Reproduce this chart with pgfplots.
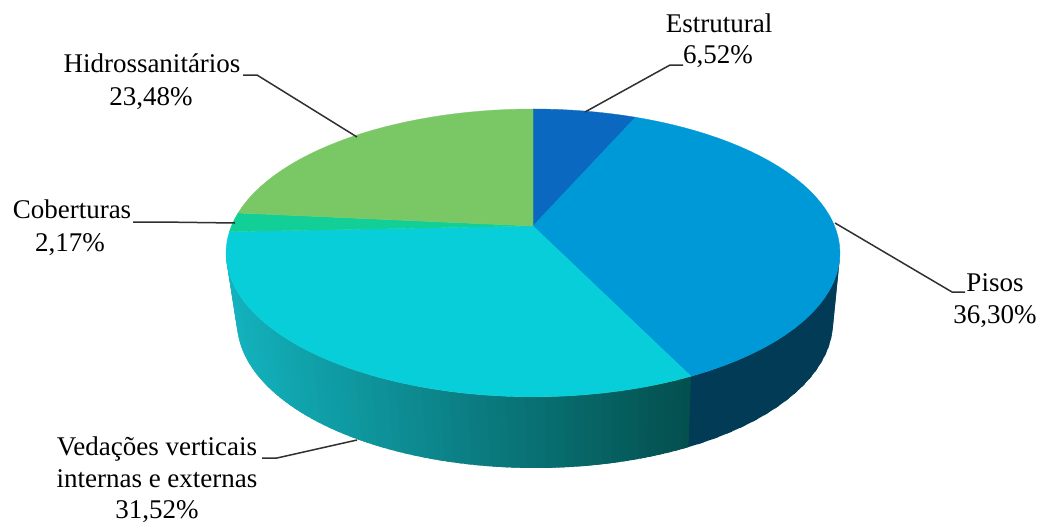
\documentclass[border=0pt]{standalone}
\usepackage{fontspec}
\setmainfont{Liberation Serif}
\usepackage{pgfplots}
\usepackage{pgfplotstable}
\pgfplotsset{compat=1.18}

% Share of each building system, clockwise from twelve o'clock
\pgfplotstableread{
share
6.52
36.30
31.52
2.17
23.48
}\sharetable

\definecolor{cEstrutural}{HTML}{0A68C0}
\definecolor{cPisos}{HTML}{0099D8}
\definecolor{cVedacoes}{HTML}{08CED9}
\definecolor{cCoberturas}{HTML}{12CF97}
\definecolor{cHidro}{HTML}{7AC865}
\definecolor{wallPisos}{HTML}{013B55}
\definecolor{wallLight}{HTML}{13B3BE}
\definecolor{wallDark}{HTML}{04504F}
\definecolor{leader}{HTML}{303030}

\newcommand{\labelfont}{\fontsize{27}{31}\selectfont}
\def\shareTotal{99.99}
\def\tilt{0.187}

% Perspective projection of the disc: upper rim and lower rim
\newcommand{\upperrim}[1]{%
  \pgfmathsetmacro\den{1+\tilt*cos(#1)}%
  \pgfmathsetmacro\rx{533+301.6*sin(#1)/\den}%
  \pgfmathsetmacro\ry{226-138.9*cos(#1)/\den}%
}
\newcommand{\lowerrim}[1]{%
  \pgfmathsetmacro\den{1+\tilt*cos(#1)}%
  \pgfmathsetmacro\rx{535+292.8*sin(#1)/\den}%
  \pgfmathsetmacro\ry{294.7-140.9*cos(#1)/\den}%
}

% One sector of the top face, for row #1 of the table
\gdef\thetaStart{0}
\newcommand{\drawslice}[2]{%
  \pgfplotstablegetelem{#1}{share}\of\sharetable
  \pgfmathsetmacro\thetaEnd{\thetaStart+\pgfplotsretval*360/\shareTotal}%
  \xdef\pts{(533,226)}%
  \pgfmathtruncatemacro\nseg{max(2,ceil((\thetaEnd-\thetaStart)/3))}%
  \foreach \i in {0,...,\nseg}{%
    \pgfmathsetmacro\th{\thetaStart+(\thetaEnd-\thetaStart)*\i/\nseg}%
    \upperrim{\th}%
    \xdef\pts{\pts (\rx,\ry)}%
  }%
  \edef\cmd{\noexpand\addplot[fill=#2,draw=#2,line width=0.3pt] coordinates {\pts (533,226)};}%
  \cmd
  \xdef\thetaStart{\thetaEnd}%
}

% One strip of the outer wall; painted in order, each one laps over the next
\newcommand{\wallstrip}[3]{%
  \upperrim{#1}\edef\ax{\rx}\edef\ay{\ry}%
  \upperrim{#2}\edef\bx{\rx}\edef\by{\ry}%
  \lowerrim{#2}\edef\cx{\rx}\edef\cy{\ry}%
  \lowerrim{#1}\edef\dx{\rx}\edef\dy{\ry}%
  \edef\cmd{\noexpand\addplot[fill={#3},draw=none] coordinates {(\ax,\ay) (\bx,\by) (\cx,\cy) (\dx,\dy) (\ax,\ay)};}%
  \cmd
}

\newcommand{\leaderline}[1]{\addplot[leader,line width=1.5pt] coordinates {#1};}
\newcommand{\txt}[3]{\node[anchor=base,inner sep=0pt,font=\labelfont,text=black] at (axis cs:#1,#2) {#3};}

\begin{document}
\begin{tikzpicture}
\path[use as bounding box] (0,0) rectangle (1045pt,523pt);
\begin{axis}[
  at={(0,0)}, anchor=south west,
  scale only axis, width=1045pt, height=523pt,
  xmin=0, xmax=1045, ymin=0, ymax=523,
  y dir=reverse, hide axis, clip=false,
]
% outer wall: floors sector, flat colour
\pgfmathsetmacro\wallStart{100.8}
\pgfmathsetmacro\wallMid{(6.52+36.30)*360/\shareTotal}
\pgfmathsetmacro\wallEnd{259.2}
\foreach \k in {0,...,17}{%
  \pgfmathsetmacro\tA{\wallStart+(\wallMid-\wallStart)*\k/18}%
  \pgfmathsetmacro\tB{\wallStart+(\wallMid-\wallStart)*(\k+1)/18+1.2}%
  \wallstrip{\tA}{\tB}{wallPisos}%
}
% outer wall: sealing sector, shaded from left to right
\foreach \k in {0,...,69}{%
  \pgfmathsetmacro\tA{\wallMid+(\wallEnd-\wallMid)*\k/70}%
  \pgfmathsetmacro\tB{\wallMid+(\wallEnd-\wallMid)*(\k+1)/70+1.2}%
  \upperrim{\tA}\edef\xa{\rx}%
  \pgfmathsetmacro\mixp{max(0,min(100,(\xa-226)/(690-226)*100))}%
  \wallstrip{\tA}{\tB}{wallDark!\mixp!wallLight}%
}
% top face
\drawslice{0}{cEstrutural}
\drawslice{1}{cPisos}
\drawslice{2}{cVedacoes}
\drawslice{3}{cCoberturas}
\drawslice{4}{cHidro}
% leader lines
\leaderline{(585,112) (670,65) (683,65)}
\leaderline{(835,223) (952,292) (965,292)}
\leaderline{(357,137) (257,75) (243,75)}
\leaderline{(235,223) (160,222) (133,222)}
\leaderline{(357,440) (277,458) (262,458)}
% labels
\txt{719}{32}{Estrutural}
\txt{718}{63}{6,52\%}
\txt{995}{291}{Pisos}
\txt{995}{323}{36,30\%}
\txt{152}{72}{Hidrossanitários}
\txt{151}{105}{23,48\%}
\txt{72}{218}{Coberturas}
\txt{70}{251}{2,17\%}
\txt{157}{455}{Vedações verticais}
\txt{157}{487}{internas e externas}
\txt{157}{518}{31,52\%}
\end{axis}
\end{tikzpicture}
\end{document}
